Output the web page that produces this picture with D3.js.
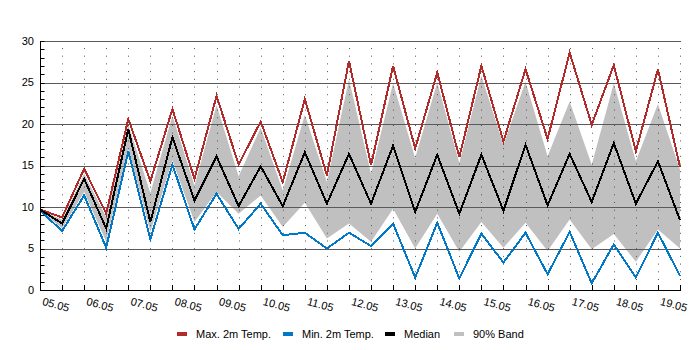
<!DOCTYPE html>
<meta charset="utf-8">
<head>
	<style>
		body { margin: 0; background: #fff; }
		text { font-family: "Liberation Sans", Arial, sans-serif; font-size: 11px; fill: #000; }
		.grid line { stroke: #5a5a5a; }
		.vgrid line { stroke: #555; stroke-dasharray: 1, 6.7; }
		.series { fill: none; stroke-width: 2; shape-rendering: crispEdges; stroke-linejoin: miter; }
	</style>
	<script src="https://cdn.jsdelivr.net/npm/d3@7"></script>
</head>
<body></body>
<script>

	// one point every 12 hours, starting 05.05 00:00
	var days = ["05.05", "06.05", "07.05", "08.05", "09.05", "10.05", "11.05", "12.05",
	            "13.05", "14.05", "15.05", "16.05", "17.05", "18.05", "19.05"];

	var maxTemp = [9.7, 8.75, 14.6, 9.2, 20.6, 13.1, 21.8, 13.4, 23.4, 15.1,
	               20.3, 13.0, 23.0, 13.8, 27.6, 15.05, 27.0, 17.05, 26.2, 16.0,
	               27.0, 17.9, 26.6, 18.2, 28.6, 19.9, 27.1, 16.7, 26.6, 14.8];

	var minTemp = [9.6, 7.1, 11.4, 5.1, 16.7, 6.1, 15.1, 7.3, 11.6, 7.35,
	               10.4, 6.6, 6.9, 5.0, 6.9, 5.3, 8.0, 1.5, 8.1, 1.4,
	               6.8, 3.3, 6.9, 1.9, 7.0, 0.8, 5.5, 1.5, 6.9, 1.7];

	var median = [9.7, 8.0, 13.4, 7.4, 19.4, 8.2, 18.4, 10.8, 16.1, 10.1,
	              14.9, 10.1, 16.6, 10.4, 16.4, 10.4, 17.4, 9.4, 16.3, 9.2,
	              16.3, 9.55, 17.5, 10.2, 16.4, 10.6, 17.7, 10.4, 15.5, 8.4];

	var bandHigh = [9.7, 8.5, 14.0, 8.8, 19.9, 11.7, 21.0, 12.6, 22.3, 13.7,
	                19.55, 12.0, 21.1, 13.0, 25.4, 14.0, 24.9, 15.9, 25.0, 15.3,
	                25.8, 17.5, 25.1, 16.1, 22.7, 15.1, 24.9, 15.5, 22.4, 14.5];

	var bandLow = [9.6, 7.4, 11.8, 5.8, 17.0, 7.0, 15.6, 8.2, 11.8, 9.2,
	               11.4, 7.6, 10.5, 6.2, 8.0, 5.8, 9.8, 5.0, 9.2, 4.6,
	               8.2, 5.1, 8.1, 4.7, 8.5, 4.9, 6.75, 3.4, 7.3, 5.0];

	var legendItems = [
		{name: "Max. 2m Temp.", color: "#b22b2b", x: 177},
		{name: "Min. 2m Temp.", color: "#0078c8", x: 283},
		{name: "Median", color: "#000", x: 385},
		{name: "90% Band", color: "#c0c0c0", x: 454}
	];

	var width = 700,
	    height = 350,
	    plotLeft = 40, plotRight = 680,
	    plotTop = 41, plotBottom = 290;

	var x = d3.scaleLinear().domain([0, maxTemp.length - 1]).range([plotLeft, plotRight]);
	var y = d3.scaleLinear().domain([0, 30]).range([plotBottom, plotTop]);

	var svg = d3.select("body").append("svg")
		.attr("width", width)
		.attr("height", height);

	// 90% band
	svg.append("path")
		.datum(d3.range(maxTemp.length))
		.attr("fill", "#c0c0c0")
		.attr("d", d3.area()
			.x(function(i) { return x(i); })
			.y0(function(i) { return y(bandLow[i]); })
			.y1(function(i) { return y(bandHigh[i]); }));

	// dotted vertical grid every 12h
	svg.append("g").attr("class", "vgrid")
		.selectAll("line")
		.data(d3.range(1, maxTemp.length))
	  .enter().append("line")
		.attr("x1", function(i) { return Math.round(x(i)) + 0.5; })
		.attr("x2", function(i) { return Math.round(x(i)) + 0.5; })
		.attr("y1", plotTop + 7)
		.attr("y2", plotBottom);

	// horizontal grid every 5 degrees
	svg.append("g").attr("class", "grid")
		.selectAll("line")
		.data(d3.range(5, 31, 5))
	  .enter().append("line")
		.attr("x1", plotLeft)
		.attr("x2", plotRight + 1)
		.attr("y1", function(d) { return Math.round(y(d)) + 0.5; })
		.attr("y2", function(d) { return Math.round(y(d)) + 0.5; });

	var line = function(values) {
		return d3.line()
			.x(function(d, i) { return x(i); })
			.y(function(d) { return y(d); })(values);
	};

	svg.append("path").attr("class", "series").attr("stroke", "#0078c8").attr("d", line(minTemp));
	svg.append("path").attr("class", "series").attr("stroke", "#b22b2b").attr("d", line(maxTemp));
	svg.append("path").attr("class", "series").attr("stroke", "#000").attr("d", line(median));

	// y axis with inward ticks
	var yAxis = svg.append("g").attr("transform", "translate(" + (plotLeft + 0.5) + ",0)");
	yAxis.append("line")
		.attr("y1", y(30)).attr("y2", plotBottom + 1)
		.attr("stroke", "#000");
	yAxis.selectAll(".tick")
		.data(d3.range(0, 31))
	  .enter().append("line")
		.attr("x1", 0).attr("x2", 4)
		.attr("y1", function(d) { return Math.round(y(d)) + 0.5; })
		.attr("y2", function(d) { return Math.round(y(d)) + 0.5; })
		.attr("stroke", "#000");
	yAxis.selectAll("text")
		.data(y.ticks(6))
	  .enter().append("text")
		.attr("x", -6.5)
		.attr("y", function(d) { return y(d); })
		.attr("dy", "0.36em")
		.attr("text-anchor", "end")
		.text(function(d) { return d; });

	// x axis with inward ticks
	var xAxis = svg.append("g");
	xAxis.append("line")
		.attr("x1", plotLeft).attr("x2", plotRight + 1)
		.attr("y1", plotBottom + 0.5).attr("y2", plotBottom + 0.5)
		.attr("stroke", "#000");
	xAxis.selectAll(".tick")
		.data(d3.range(0, maxTemp.length))
	  .enter().append("line")
		.attr("x1", function(i) { return Math.round(x(i)) + 0.5; })
		.attr("x2", function(i) { return Math.round(x(i)) + 0.5; })
		.attr("y1", plotBottom - 5).attr("y2", plotBottom)
		.attr("stroke", "#000");
	xAxis.selectAll("text")
		.data(days)
	  .enter().append("text")
		.attr("transform", function(d, i) { return "translate(" + (x(i * 2) + 4) + "," + (plotBottom + 6) + ")rotate(15)"; })
		.attr("y", 9)
		.text(function(d) { return d; });

	// legend
	var legend = svg.append("g").selectAll("g")
		.data(legendItems)
	  .enter().append("g")
		.attr("transform", function(d) { return "translate(" + d.x + ",332)"; });
	legend.append("rect")
		.attr("width", 10).attr("height", 4)
		.attr("fill", function(d) { return d.color; });
	legend.append("text")
		.attr("x", 19).attr("y", 6)
		.text(function(d) { return d.name; });

</script>
